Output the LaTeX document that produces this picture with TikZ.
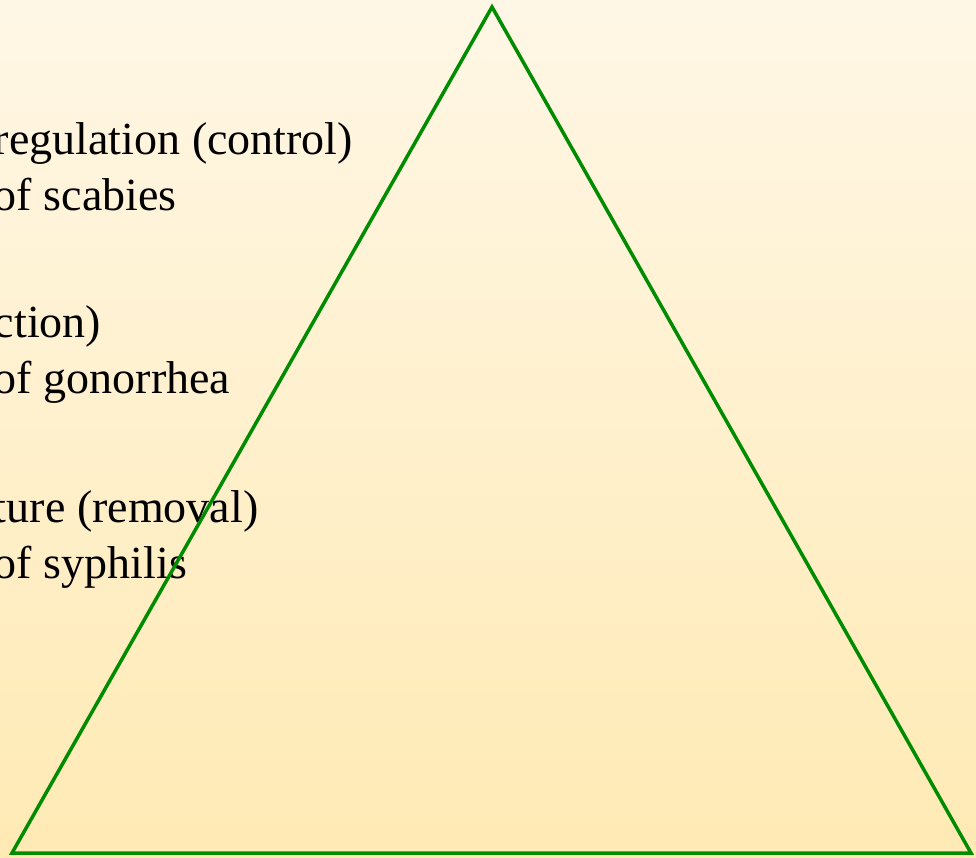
\documentclass[tikz,border=0pt]{standalone}
\usepackage{fontspec}
\setmainfont{Liberation Serif}
\definecolor{bgtop}{RGB}{255,247,230}
\definecolor{bgbot}{RGB}{255,234,180}
\definecolor{trigreen}{RGB}{0,140,0}
\tikzset{
  lbl/.style={anchor=base west, inner sep=0pt, outer sep=0pt, text=black,
              font=\fontsize{46}{56}\selectfont},
  tri/.style={draw=trigreen, line width=3.5pt, line join=miter}
}
\begin{document}
\begin{tikzpicture}[x=1pt,y=-1pt]
  \useasboundingbox (0,0) rectangle (976,858);
  \shade[top color=bgtop, bottom color=bgbot] (0,0) rectangle (976,858);
  \node[lbl] (t1) at (-6,155) {regulation (control)};
  \node[lbl] (t2) at (-6,211) {of scabies};
  \node[lbl] (t3) at (-6,337) {ction)};
  \node[lbl] (t4) at (-6,393) {of gonorrhea};
  \node[lbl] (t5) at (-6,522) {ture (removal)};
  \node[lbl] (t6) at (-6,578) {of syphilis};
  \coordinate (apex) at (492,7);
  \coordinate (bl) at (12,853);
  \coordinate (br) at (971,853);
  \draw[tri] (apex) -- (bl) -- (br) -- cycle;
\end{tikzpicture}
\end{document}
